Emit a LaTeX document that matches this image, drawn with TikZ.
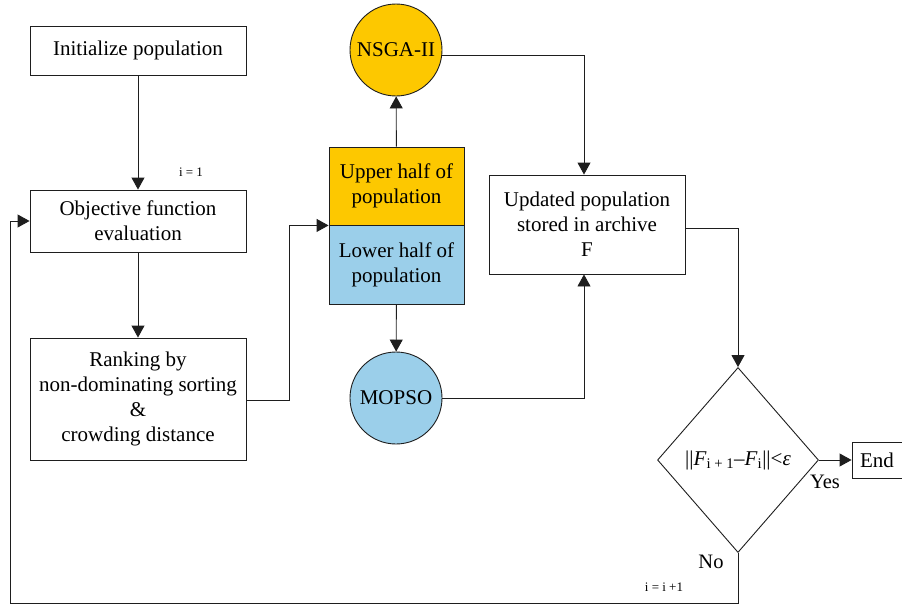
\documentclass[tikz,border=0pt]{standalone}
\usepackage{fontspec}
\setmainfont{Liberation Serif}
\usetikzlibrary{shapes.geometric,arrows.meta}
\definecolor{yell}{HTML}{FDC800}
\definecolor{blu}{HTML}{9BCFEA}
\definecolor{ln}{HTML}{1E1E1E}
\tikzset{
  box/.style={draw=ln, line width=0.9pt, align=center, inner sep=0pt, font=\fontsize{21}{24.8}\selectfont},
  circ/.style={draw=ln, line width=0.9pt, circle, minimum size=92pt, inner sep=0pt, font=\fontsize{21}{24.8}\selectfont},
  conn/.style={draw=ln, line width=0.9pt, -{Triangle[length=12pt,width=13pt]}},
  small/.style={font=\fontsize{13}{15}\selectfont, inner sep=0pt},
  lbl/.style={font=\fontsize{20.5}{24}\selectfont, inner sep=0pt}
}
\begin{document}
\begin{tikzpicture}[x=1pt,y=-1pt]
\useasboundingbox (0,0) rectangle (902,605);
\node[box, minimum width=216pt, minimum height=49pt] (init) at (138,50.5) {Initialize population};
\node[box, minimum width=216pt, minimum height=62pt] (obj) at (138,221) {Objective function\\evaluation};
\node[box, minimum width=216pt, minimum height=122pt] (rank) at (138,399) {Ranking by\\non-dominating sorting\\\&\\crowding distance};
\node[box, fill=yell, minimum width=135pt, minimum height=78pt] (up) at (396.5,186) {Upper half of\\population};
\node[box, fill=blu, minimum width=135pt, minimum height=79pt] (low) at (396.5,264.5) {Lower half of\\population};
\node[circ, fill=yell] (nsga) at (396,50) {NSGA-II};
\node[circ, fill=blu] (mopso) at (396,398) {MOPSO};
\node[box, fill=white, minimum width=196pt, minimum height=99pt] (upd) at (587,224.5) {Updated population\\stored in archive\\F};
\node[box, diamond, minimum width=161pt, minimum height=185pt] (dec) at (738,460) {||\textit{F}\textsubscript{i + 1}–\textit{F}\textsubscript{i}||<\textit{ε}};
\node[box, minimum width=50pt, minimum height=36pt] (endb) at (877,460) {End};
\coordinate (rk) at (289,400);
\coordinate (nscorner) at (584,55);
\coordinate (mocorner) at (584,398);
\coordinate (updcorner) at (738,228);
\coordinate (b1) at (738,603);
\coordinate (b2) at (10,603);
\coordinate (b3) at (10,221);
\draw[conn] (init) -- (obj);
\draw[conn] (obj) -- (rank);
\draw[conn] (rank.east |- rk) -- (rk) |- (up.south west);
\draw[conn] (up) -- (nsga);
\draw[conn] (low) -- (mopso);
\draw[conn] (nsga.east |- nscorner) -- (nscorner) -- (upd.north -| nscorner);
\draw[conn] (mopso.east) -- (mocorner) -- (upd.south -| mocorner);
\draw[conn] (upd.east |- updcorner) -- (updcorner) -- (dec.north);
\draw[conn] (dec.east) -- (endb.west);
\draw[conn] (dec.south) -- (b1) -- (b2) -- (b3) -- (obj.west);
\node[small] (i1) at (191,172) {i = 1};
\node[small] (ii) at (664,587) {i = i +1};
\node[lbl] (yes) at (825,482) {Yes};
\node[lbl] (no) at (711,562) {No};
\end{tikzpicture}
\end{document}
